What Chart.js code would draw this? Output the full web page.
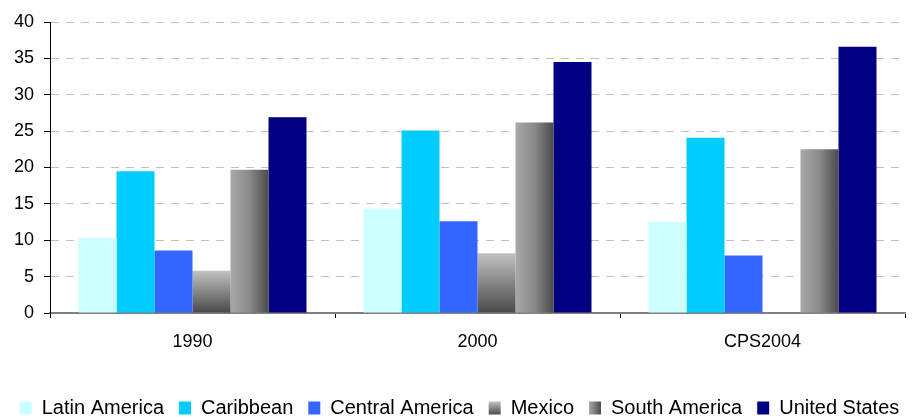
<!DOCTYPE html>
<html>
<head>
<meta charset="utf-8">
<script src="https://cdn.jsdelivr.net/npm/chart.js@4.4.1/dist/chart.umd.min.js"></script>
<style>
  body { margin: 0; background: #fff; }
  #wrap { width: 919px; height: 418px; position: relative; }
</style>
</head>
<body>
<div id="wrap"><canvas id="chart"></canvas></div>
<script>
// data
const years          = ['1990', '2000', 'CPS2004'];
const latinAmerica   = [10.3, 14.3, 12.5];
const caribbean      = [19.5, 25.1, 24.1];
const centralAmerica = [8.6, 12.6, 7.9];
const mexico         = [5.8, 8.2, null];
const southAmerica   = [19.7, 26.2, 22.5];
const unitedStates   = [26.9, 34.5, 36.6];

// gradients for the two grey series, built from the bar itself once it has a position
function mexicoFill(ctx) {
    const el = ctx.element;
    if (!el || !isFinite(el.y) || !isFinite(el.base)) return '#8a8a8a';
    const g = ctx.chart.ctx.createLinearGradient(0, el.y, 0, el.base);
    g.addColorStop(0, '#c2c2c2');
    g.addColorStop(1, '#4a4a4a');
    return g;
}

function southFill(ctx) {
    const el = ctx.element;
    if (!el || !isFinite(el.x) || !isFinite(el.width)) return '#7a7a7a';
    const g = ctx.chart.ctx.createLinearGradient(el.x - el.width / 2, 0, el.x + el.width / 2, 0);
    g.addColorStop(0, '#a8a8a8');
    g.addColorStop(0.5, '#8a8a8a');
    g.addColorStop(1, '#4a4a4a');
    return g;
}

const legendFont = 20;
const legendBoxW = 12;
const legendBoxH = 13;
let savedBoxes = null;   // legend boxes from the previous draw

function legendLabels(chart) {
    const items = Chart.defaults.plugins.legend.labels.generateLabels(chart);
    items.forEach((it, i) => {
        const b = savedBoxes && savedBoxes[i];
        if (!b) return;
        const top = b.top + Math.max((legendFont - legendBoxH) / 2, 0);
        let g;
        if (it.text === 'Mexico') {
            g = chart.ctx.createLinearGradient(0, top, 0, top + legendBoxH);
            g.addColorStop(0, '#c2c2c2');
            g.addColorStop(1, '#4a4a4a');
        } else if (it.text === 'South America') {
            g = chart.ctx.createLinearGradient(b.left, 0, b.left + legendBoxW, 0);
            g.addColorStop(0, '#a8a8a8');
            g.addColorStop(1, '#4a4a4a');
        }
        if (g) it.fillStyle = g;
    });
    return items;
}

const keepLegendBoxes = {
    id: 'keepLegendBoxes',
    afterDraw(chart) {
        if (chart.legend && chart.legend.legendHitBoxes) {
            savedBoxes = chart.legend.legendHitBoxes.map(b => ({ left: b.left, top: b.top }));
        }
    }
};

const data = {
    labels: years,
    datasets: [
        { label: 'Latin America',   data: latinAmerica,   backgroundColor: '#ccffff' },
        { label: 'Caribbean',       data: caribbean,      backgroundColor: '#00ccff' },
        { label: 'Central America', data: centralAmerica, backgroundColor: '#3366ff' },
        { label: 'Mexico',          data: mexico,         backgroundColor: mexicoFill },
        { label: 'South America',   data: southAmerica,   backgroundColor: southFill },
        { label: 'United States',   data: unitedStates,   backgroundColor: '#000080' }
    ]
};

const config = {
    type: 'bar',
    data: data,
    plugins: [keepLegendBoxes],
    options: {
        responsive: true,
        maintainAspectRatio: false,
        animation: false,
        datasets: {
            bar: { categoryPercentage: 0.8, barPercentage: 1.0, borderWidth: 0 }
        },
        layout: { padding: { left: 0, right: 0, top: 22, bottom: -10 } },
        font: { family: '"Liberation Sans", Arial, sans-serif' },
        scales: {
            x: {
                offset: true,
                afterFit: (scale) => {
                    scale.height = 70;
                    scale.paddingLeft = 0;
                    scale.paddingRight = 14;
                },
                grid: {
                    display: true,
                    drawOnChartArea: false,
                    drawTicks: true,
                    offset: true,
                    color: '#000000',
                    tickColor: '#000000',
                    tickLength: 5
                },
                border: { display: true, color: '#808080', width: 2 },
                ticks: {
                    color: '#000000',
                    padding: 13,
                    font: { size: 18, family: '"Liberation Sans", Arial, sans-serif' }
                }
            },
            y: {
                min: 0,
                max: 40,
                afterFit: (scale) => {
                    scale.width = 50;
                    scale.paddingTop = 0;
                    scale.paddingBottom = 0;
                },
                grid: {
                    color: '#c0c0c0',
                    tickColor: '#000000',
                    tickLength: 6,
                    tickBorderDash: []
                },
                border: { display: true, color: '#000000', width: 1, dash: [8, 7] },
                ticks: {
                    stepSize: 5,
                    color: '#000000',
                    padding: 10,
                    font: { size: 18, family: '"Liberation Sans", Arial, sans-serif' }
                }
            }
        },
        plugins: {
            tooltip: { enabled: false },
            legend: {
                position: 'bottom',
                labels: {
                    boxWidth: legendBoxW,
                    boxHeight: legendBoxH,
                    padding: 15,
                    color: '#000000',
                    font: { size: legendFont, family: '"Liberation Sans", Arial, sans-serif' },
                    generateLabels: legendLabels
                }
            }
        }
    }
};

const mychart = new Chart(document.getElementById('chart'), config);
// second pass so the gradients see where each bar and legend box ended up
mychart.update();
</script>
</body>
</html>
